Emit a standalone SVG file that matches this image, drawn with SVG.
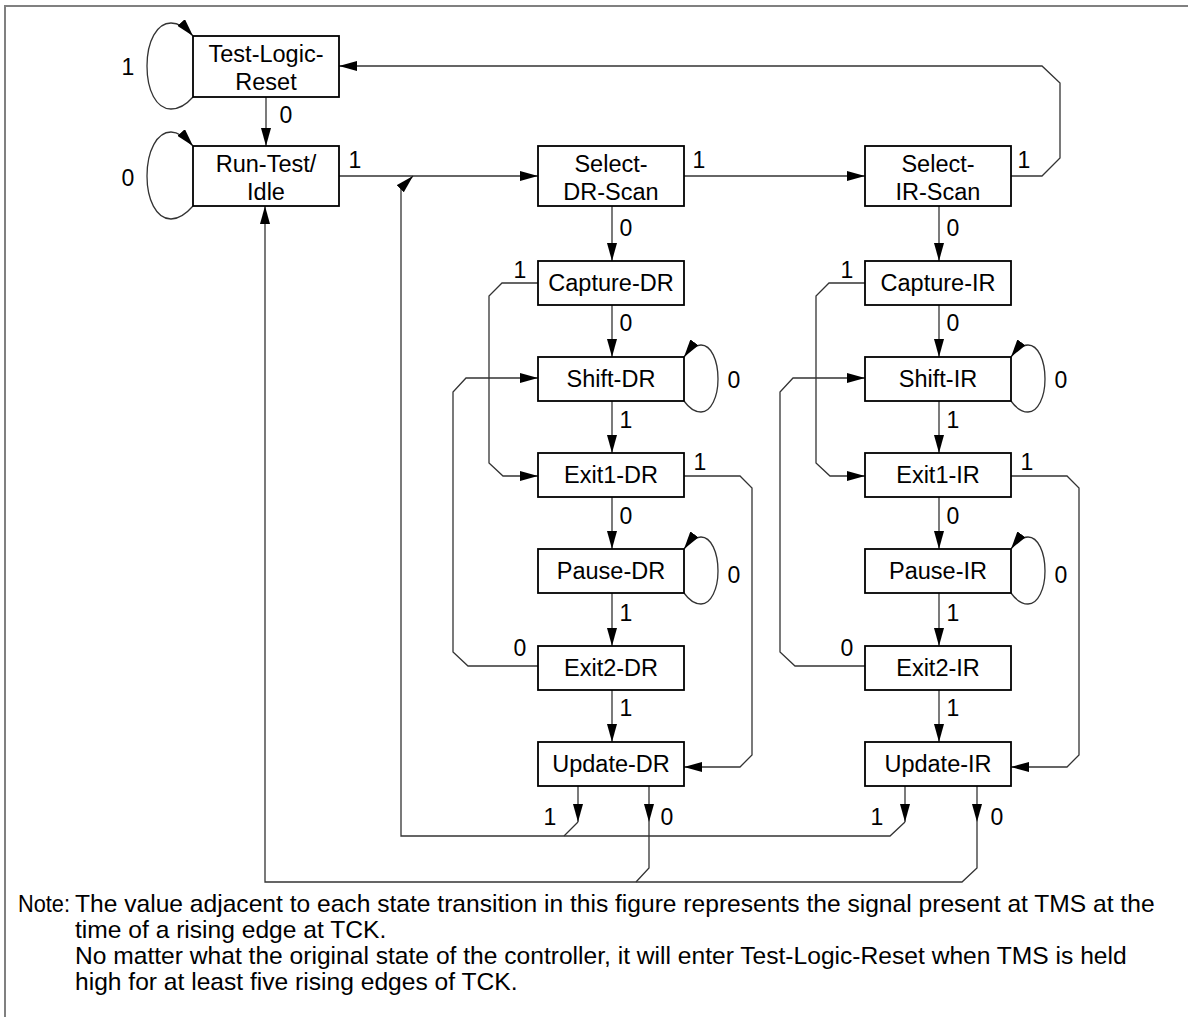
<svg xmlns="http://www.w3.org/2000/svg" width="1188" height="1017" viewBox="0 0 1188 1017">
<style>
.box{fill:#fff;stroke:#000;stroke-width:1.8}
.st{font-family:"Liberation Sans",Arial,sans-serif;font-size:23.5px;fill:#000;text-anchor:middle}
.lb{font-family:"Liberation Sans",Arial,sans-serif;font-size:23px;fill:#000;text-anchor:middle}
.nt{font-family:"Liberation Sans",Arial,sans-serif;font-size:24.6px;fill:#000}
.c{fill:none;stroke:#333;stroke-width:1.3}
.a{marker-end:url(#ah)}
</style>
<defs>
<marker id="ah" markerUnits="userSpaceOnUse" viewBox="0 0 18 10" refX="18" refY="5" markerWidth="18" markerHeight="10" orient="auto">
<path d="M0,0 L18,5 L0,10 z" fill="#000"/>
</marker>
</defs>
<rect width="1188" height="1017" fill="#fff"/>
<path d="M5,1017 V6 H1188" fill="none" stroke="#808080" stroke-width="2"/>

<g id="connectors">
<!-- self loops -->
<path class="c a" d="M193,97 C186,105 178,109 171,109 C156,109 147,90 147,66 C147,41 157,23 171,23 C179,23 186,28 193,36"/>
<path class="c a" d="M193,206 C186,214 178,219 171,219 C156,219 147,199 147,176 C147,151 157,132 171,132 C179,132 186,138 193,146"/>
<path class="c a" d="M684,401 C689,408 695,412 701,412 C711,412 718,397 718,379 C718,360 711,345 701,345 C695,345 689,350 684,357"/>
<path class="c a" d="M684,593 C689,600 695,604 701,604 C711,604 718,589 718,571 C718,552 711,537 701,537 C695,537 689,542 684,549"/>
<path class="c a" d="M1011,401 C1016,408 1022,412 1028,412 C1038,412 1045,397 1045,379 C1045,360 1038,345 1028,345 C1022,345 1016,350 1011,357"/>
<path class="c a" d="M1011,593 C1016,600 1022,604 1028,604 C1038,604 1045,589 1045,571 C1045,552 1038,537 1028,537 C1022,537 1016,542 1011,549"/>
<!-- vertical transitions -->
<path class="c a" d="M266,97 V146"/>
<path class="c a" d="M612,206 V261"/>
<path class="c a" d="M612,305 V357"/>
<path class="c a" d="M612,401 V453"/>
<path class="c a" d="M612,497 V549"/>
<path class="c a" d="M612,593 V646"/>
<path class="c a" d="M612,690 V742"/>
<path class="c a" d="M939,206 V261"/>
<path class="c a" d="M939,305 V357"/>
<path class="c a" d="M939,401 V453"/>
<path class="c a" d="M939,497 V549"/>
<path class="c a" d="M939,593 V646"/>
<path class="c a" d="M939,690 V742"/>
<!-- horizontal -->
<path class="c a" d="M339,176 H538"/>
<path class="c a" d="M684,176 H865"/>
<path class="c a" d="M1011,176 H1042 L1060,158 V83 L1042,66 H339"/>
<!-- DR side loops -->
<path class="c a" d="M538,283 H502 L489,296 V463 L503,476 H538"/>
<path class="c a" d="M538,666 H468 L453,652 V392 L466,378 H538"/>
<path class="c a" d="M684,476 H740 L752,488 V755 L740,767 H684"/>
<!-- IR side loops -->
<path class="c a" d="M865,283 H829 L816,296 V463 L830,476 H865"/>
<path class="c a" d="M865,666 H795 L780,652 V392 L793,378 H865"/>
<path class="c a" d="M1011,476 H1067 L1079,488 V755 L1067,767 H1011"/>
<!-- Update exits -->
<path class="c a" d="M578,786 V822"/>
<path class="c a" d="M649,786 V822"/>
<path class="c a" d="M905,786 V822"/>
<path class="c a" d="M977,786 V822"/>
<path class="c" d="M578,822 L564,836"/>
<path class="c" d="M649,822 V868 L636,882"/>
<path class="c a" d="M905,822 L890,836 H401 V188 L413,176"/>
<path class="c a" d="M977,822 V868 L962,882 H265 V206"/>
</g>

<g id="labels">
<text class="lb" x="128" y="75">1</text>
<text class="lb" x="286" y="123">0</text>
<text class="lb" x="128" y="186">0</text>
<text class="lb" x="355" y="168">1</text>
<text class="lb" x="699" y="168">1</text>
<text class="lb" x="1024" y="168">1</text>
<text class="lb" x="626" y="236">0</text>
<text class="lb" x="953" y="236">0</text>
<text class="lb" x="520" y="278">1</text>
<text class="lb" x="847" y="278">1</text>
<text class="lb" x="626" y="331">0</text>
<text class="lb" x="953" y="331">0</text>
<text class="lb" x="734" y="388">0</text>
<text class="lb" x="1061" y="388">0</text>
<text class="lb" x="626" y="428">1</text>
<text class="lb" x="953" y="428">1</text>
<text class="lb" x="700" y="470">1</text>
<text class="lb" x="1027" y="470">1</text>
<text class="lb" x="626" y="524">0</text>
<text class="lb" x="953" y="524">0</text>
<text class="lb" x="734" y="583">0</text>
<text class="lb" x="1061" y="583">0</text>
<text class="lb" x="626" y="621">1</text>
<text class="lb" x="953" y="621">1</text>
<text class="lb" x="520" y="656">0</text>
<text class="lb" x="847" y="656">0</text>
<text class="lb" x="626" y="716">1</text>
<text class="lb" x="953" y="716">1</text>
<text class="lb" x="550" y="825">1</text>
<text class="lb" x="667" y="825">0</text>
<text class="lb" x="877" y="825">1</text>
<text class="lb" x="997" y="825">0</text>
</g>

<g id="test-logic-reset"><rect class="box" x="193" y="36" width="146" height="61"/><text class="st" x="266" y="62">Test-Logic-</text><text class="st" x="266" y="90">Reset</text></g>
<g id="run-test-idle"><rect class="box" x="193" y="146" width="146" height="60"/><text class="st" x="266" y="172">Run-Test/</text><text class="st" x="266" y="200">Idle</text></g>
<g id="select-dr-scan"><rect class="box" x="538" y="146" width="146" height="60"/><text class="st" x="611" y="172">Select-</text><text class="st" x="611" y="200">DR-Scan</text></g>
<g id="select-ir-scan"><rect class="box" x="865" y="146" width="146" height="60"/><text class="st" x="938" y="172">Select-</text><text class="st" x="938" y="200">IR-Scan</text></g>
<g id="capture-dr"><rect class="box" x="538" y="261" width="146" height="44"/><text class="st" x="611" y="291">Capture-DR</text></g>
<g id="shift-dr"><rect class="box" x="538" y="357" width="146" height="44"/><text class="st" x="611" y="387">Shift-DR</text></g>
<g id="exit1-dr"><rect class="box" x="538" y="453" width="146" height="44"/><text class="st" x="611" y="483">Exit1-DR</text></g>
<g id="pause-dr"><rect class="box" x="538" y="549" width="146" height="44"/><text class="st" x="611" y="579">Pause-DR</text></g>
<g id="exit2-dr"><rect class="box" x="538" y="646" width="146" height="44"/><text class="st" x="611" y="676">Exit2-DR</text></g>
<g id="update-dr"><rect class="box" x="538" y="742" width="146" height="44"/><text class="st" x="611" y="772">Update-DR</text></g>
<g id="capture-ir"><rect class="box" x="865" y="261" width="146" height="44"/><text class="st" x="938" y="291">Capture-IR</text></g>
<g id="shift-ir"><rect class="box" x="865" y="357" width="146" height="44"/><text class="st" x="938" y="387">Shift-IR</text></g>
<g id="exit1-ir"><rect class="box" x="865" y="453" width="146" height="44"/><text class="st" x="938" y="483">Exit1-IR</text></g>
<g id="pause-ir"><rect class="box" x="865" y="549" width="146" height="44"/><text class="st" x="938" y="579">Pause-IR</text></g>
<g id="exit2-ir"><rect class="box" x="865" y="646" width="146" height="44"/><text class="st" x="938" y="676">Exit2-IR</text></g>
<g id="update-ir"><rect class="box" x="865" y="742" width="146" height="44"/><text class="st" x="938" y="772">Update-IR</text></g>

<g id="note">
<text class="nt" x="18" y="912" textLength="52" lengthAdjust="spacingAndGlyphs">Note:</text>
<text class="nt" x="75" y="912">The value adjacent to each state transition in this figure represents the signal present at TMS at the</text>
<text class="nt" x="75" y="938">time of a rising edge at TCK.</text>
<text class="nt" x="75" y="964">No matter what the original state of the controller, it will enter Test-Logic-Reset when TMS is held</text>
<text class="nt" x="75" y="990">high for at least five rising edges of TCK.</text>
</g>
</svg>
